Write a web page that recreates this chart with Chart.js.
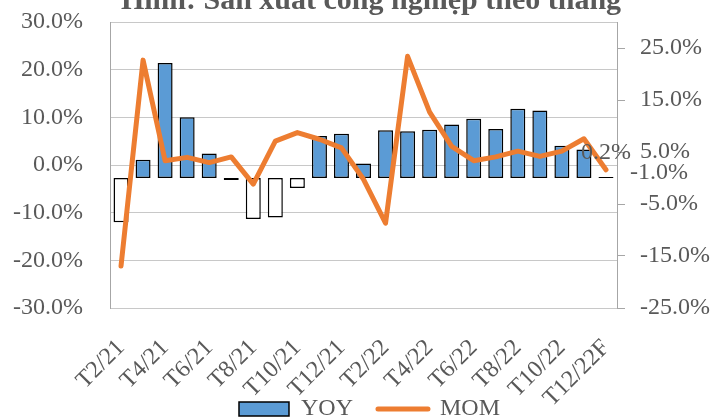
<!DOCTYPE html>
<html>
<head>
<meta charset="utf-8">
<script src="https://cdn.jsdelivr.net/npm/chart.js@4.4.1/dist/chart.umd.min.js"></script>
<style>
  html, body { margin: 0; padding: 0; background: #fff; }
  #wrap { width: 717px; height: 417px; overflow: hidden; }
</style>
</head>
<body>
<div id="wrap"><canvas id="myChart" width="717" height="431"></canvas></div>
<script>
var months = ['T2/21', 'T3/21', 'T4/21', 'T5/21', 'T6/21', 'T7/21', 'T8/21', 'T9/21', 'T10/21', 'T11/21', 'T12/21',
    'T1/22', 'T2/22', 'T3/22', 'T4/22', 'T5/22', 'T6/22', 'T7/22', 'T8/22', 'T9/22', 'T10/22', 'T11/22', 'T12/22F'];
var yoy = [-8.5, 3.5, 22.1, 11.7, 4.7, -0.4, -7.9, -7.6, -1.9, 8.1, 8.5,
    2.8, 9.2, 9.0, 9.3, 10.3, 11.4, 9.4, 13.3, 13.0, 6.2, 5.5, 0.2];
var mom = [-21.2, 22.0, 0.9, 1.6, 0.5, 1.7, -4.0, 5.0, 6.8, 5.4, 3.6,
    -3.0, -12.2, 22.8, 11.1, 3.9, 0.9, 1.7, 2.9, 1.8, 2.9, 5.5, -1.0];
var rightTicks = [-25, -15, -5, 5, 15, 25];

var serif = '"Liberation Serif", "Times New Roman", serif';
var grey = '#595959';
var pct = function (v) { return Number(v).toFixed(1) + '%'; };

// title sits mostly above the picture, only its lower part shows
var titlePlugin = {
    id: 'cutTitle',
    afterLayout: function (chart) {
        // legend is a bit right of the canvas centre in the original
        chart.legend.left += 11;
        chart.legend.right += 11;
        // let the slanted month labels run down past the legend top
        chart.scales.x.bottom = chart.height;
    },
    afterDraw: function (chart) {
        var ctx = chart.ctx;
        ctx.save();
        ctx.font = 'bold 30px ' + serif;
        ctx.fillStyle = grey;
        ctx.textAlign = 'center';
        ctx.textBaseline = 'alphabetic';
        ctx.fillText('Hình: Sản xuất công nghiệp theo tháng', 371, 9);
        ctx.restore();
    }
};

// the two labels at the last month
var lastLabels = {
    id: 'lastLabels',
    afterDatasetsDraw: function (chart) {
        var ctx = chart.ctx;
        var i = months.length - 1;
        var bar = chart.getDatasetMeta(0).data[i];
        var pt = chart.getDatasetMeta(1).data[i];
        ctx.save();
        ctx.font = '24px ' + serif;
        ctx.fillStyle = grey;
        ctx.textBaseline = 'middle';
        ctx.textAlign = 'center';
        ctx.fillText(pct(yoy[i]), bar.x, bar.y - 24);
        ctx.textAlign = 'left';
        ctx.fillText(pct(mom[i]), pt.x + 24, pt.y + 3);
        ctx.restore();
    }
};

var myChart = new Chart(document.getElementById('myChart'), {
    type: 'bar',
    data: {
        labels: months,
        datasets: [{
            type: 'bar',
            label: 'YOY',
            data: yoy,
            yAxisID: 'y1',
            order: 1,
            backgroundColor: yoy.map(function (v) { return v < 0 ? '#ffffff' : '#5B9BD5'; }),
            borderColor: '#000000',
            borderWidth: 1.5,
            borderSkipped: false,
            barPercentage: 0.68,
            categoryPercentage: 1
        }, {
            type: 'line',
            label: 'MOM',
            data: mom,
            yAxisID: 'y',
            order: 0,
            borderColor: '#ED7D31',
            backgroundColor: '#ED7D31',
            borderWidth: 5,
            borderCapStyle: 'round',
            borderJoinStyle: 'round',
            pointRadius: 0,
            tension: 0
        }]
    },
    options: {
        responsive: false,
        animation: false,
        layout: { padding: { top: 22, left: 0, right: 0, bottom: 0 } },
        plugins: {
            title: { display: false },
            tooltip: { enabled: false },
            legend: {
                position: 'bottom',
                labels: {
                    usePointStyle: true,
                    pointStyleWidth: 50,
                    boxHeight: 14,
                    padding: 25,
                    color: grey,
                    font: { family: serif, size: 24 },
                    generateLabels: function () {
                        return [
                            { text: 'YOY', fillStyle: '#5B9BD5', strokeStyle: '#000000', lineWidth: 1.5,
                              pointStyle: 'rect', datasetIndex: 0, fontColor: grey },
                            { text: 'MOM', fillStyle: '#ED7D31', strokeStyle: '#ED7D31', lineWidth: 5,
                              lineCap: 'round', pointStyle: 'line', datasetIndex: 1, fontColor: grey }
                        ];
                    }
                }
            }
        },
        scales: {
            x: {
                grid: { display: false },
                border: { display: false },
                ticks: {
                    autoSkip: false,
                    minRotation: 45,
                    maxRotation: 45,
                    padding: 18,
                    color: grey,
                    font: { family: serif, size: 24 },
                    callback: function (v, i) { return i % 2 === 0 ? months[i] : ''; }
                },
                afterFit: function (s) { s.height = 64; }
            },
            y: {
                position: 'left',
                min: -30,
                max: 30,
                grid: { color: '#C8C8C8', lineWidth: 1, drawTicks: false },
                border: { color: '#A6A6A6', width: 1 },
                ticks: {
                    stepSize: 10,
                    padding: 27,
                    color: grey,
                    font: { family: serif, size: 24 },
                    callback: pct
                },
                afterFit: function (s) { s.width = 110; s.paddingTop = 0; s.paddingBottom = 0; }
            },
            y1: {
                position: 'right',
                min: -25,
                max: 30,
                grid: { drawOnChartArea: false, color: '#A6A6A6', tickLength: 8 },
                border: { color: '#A6A6A6', width: 1 },
                ticks: {
                    padding: 15,
                    color: grey,
                    font: { family: serif, size: 24 },
                    callback: pct
                },
                afterBuildTicks: function (s) {
                    s.ticks = rightTicks.map(function (v) { return { value: v }; });
                },
                afterFit: function (s) { s.width = 100; s.paddingTop = 0; s.paddingBottom = 0; }
            }
        }
    },
    plugins: [titlePlugin, lastLabels]
});
</script>
</body>
</html>
